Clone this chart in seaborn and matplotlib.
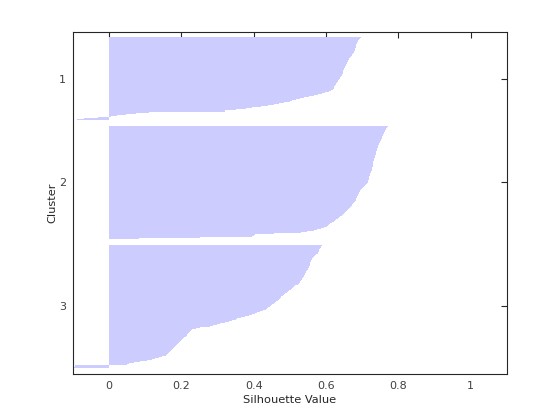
import numpy as np
import pandas as pd
import matplotlib
matplotlib.use("Agg")
import matplotlib.pyplot as plt
import seaborn as sns

# Silhouette values (sorted descending within each cluster)
cluster_1 = [
    0.696, 0.693, 0.691, 0.689, 0.688, 0.686, 0.685, 0.684, 0.683, 0.683,
    0.682, 0.681, 0.681, 0.679, 0.678, 0.677, 0.675, 0.673, 0.671, 0.669,
    0.667, 0.665, 0.663, 0.662, 0.660, 0.659, 0.657, 0.656, 0.655, 0.653,
    0.652, 0.650, 0.649, 0.648, 0.648, 0.647, 0.646, 0.645, 0.644, 0.642,
    0.640, 0.638, 0.635, 0.634, 0.633, 0.631, 0.629, 0.627, 0.624, 0.623,
    0.622, 0.621, 0.620, 0.614, 0.608, 0.598, 0.589, 0.578, 0.566, 0.552,
    0.538, 0.528, 0.518, 0.505, 0.500, 0.485, 0.470, 0.455, 0.440, 0.420,
    0.395, 0.378, 0.350, 0.320, 0.320, 0.110, 0.074, 0.046, 0.023, 0.005,
    -0.031, -0.068, -0.089,
]
cluster_2 = [
    0.771, 0.769, 0.767, 0.765, 0.763, 0.762, 0.761, 0.760, 0.758, 0.757,
    0.756, 0.755, 0.754, 0.753, 0.752, 0.750, 0.749, 0.748, 0.746, 0.745,
    0.744, 0.743, 0.742, 0.741, 0.740, 0.739, 0.738, 0.738, 0.737, 0.736,
    0.736, 0.735, 0.735, 0.734, 0.733, 0.732, 0.731, 0.731, 0.730, 0.730,
    0.729, 0.729, 0.728, 0.728, 0.727, 0.726, 0.725, 0.724, 0.723, 0.722,
    0.721, 0.720, 0.720, 0.719, 0.718, 0.717, 0.716, 0.715, 0.714, 0.711,
    0.708, 0.705, 0.702, 0.700, 0.697, 0.695, 0.694, 0.692, 0.691, 0.689,
    0.688, 0.686, 0.685, 0.684, 0.683, 0.682, 0.680, 0.677, 0.675, 0.673,
    0.671, 0.669, 0.666, 0.663, 0.660, 0.659, 0.656, 0.653, 0.650, 0.647,
    0.643, 0.639, 0.636, 0.632, 0.628, 0.626, 0.621, 0.616, 0.612, 0.609,
    0.606, 0.603, 0.595, 0.585, 0.576, 0.567, 0.548, 0.530, 0.456, 0.405,
    0.400, 0.396, 0.253, 0.083,
]
cluster_3 = [
    0.589, 0.587, 0.585, 0.583, 0.582, 0.581, 0.580, 0.579, 0.577, 0.573,
    0.569, 0.566, 0.564, 0.562, 0.560, 0.559, 0.558, 0.557, 0.557, 0.556,
    0.555, 0.554, 0.552, 0.551, 0.549, 0.548, 0.546, 0.545, 0.543, 0.542,
    0.540, 0.538, 0.537, 0.535, 0.533, 0.531, 0.529, 0.527, 0.525, 0.522,
    0.518, 0.514, 0.511, 0.508, 0.505, 0.502, 0.499, 0.495, 0.491, 0.488,
    0.484, 0.480, 0.477, 0.475, 0.472, 0.470, 0.466, 0.462, 0.458, 0.455,
    0.451, 0.448, 0.445, 0.441, 0.437, 0.433, 0.426, 0.418, 0.410, 0.403,
    0.395, 0.388, 0.376, 0.365, 0.354, 0.350, 0.341, 0.332, 0.320, 0.308,
    0.299, 0.288, 0.278, 0.252, 0.240, 0.230, 0.227, 0.224, 0.221, 0.219,
    0.217, 0.215, 0.212, 0.208, 0.204, 0.203, 0.199, 0.196, 0.193, 0.190,
    0.187, 0.184, 0.182, 0.179, 0.177, 0.175, 0.172, 0.169, 0.166, 0.163,
    0.160, 0.157, 0.148, 0.138, 0.128, 0.118, 0.105, 0.085, 0.070, 0.055,
    0.050, -0.094, -0.095, -0.096,
]
cluster_names = ["1", "2", "3"]
x_ticks = [0, 0.2, 0.4, 0.6, 0.8, 1]
x_tick_labels = ["0", "0.2", "0.4", "0.6", "0.8", "1"]

sns.set_theme(style="white")
plt.rcParams["font.family"] = ["DejaVu Sans"]

fig = plt.figure(figsize=(5.6, 4.2), dpi=100)
ax = fig.add_axes([0.13, 0.11, 0.775, 0.815])

space = 6
rows = []
centers = []
pos = space
for name, vals in zip(cluster_names, [cluster_1, cluster_2, cluster_3]):
    start = pos + 1
    for v in vals:
        pos += 1
        rows.append((pos, v, name))
    centers.append((start + pos) / 2)
    pos += space
total = pos
df = pd.DataFrame(rows, columns=["pos", "value", "cluster"])

sns.barplot(data=df, x="value", y="pos", orient="y", native_scale=True,
            errorbar=None, color="#ccccff", saturation=1, width=1,
            linewidth=0, edgecolor="none", antialiased=False, ax=ax)

ax.set_xlim(-0.1, 1.1)
ax.set_ylim(total + 0.5, 0.5)
ax.set_xticks(x_ticks)
ax.set_xticklabels(x_tick_labels)
ax.set_yticks(centers)
ax.set_yticklabels(cluster_names)

dark = "#262626"
for sp in ax.spines.values():
    sp.set_visible(True)
    sp.set_color(dark)
    sp.set_linewidth(0.8)
ax.tick_params(direction="in", length=4, width=0.8, top=True, right=True,
               labelsize=8, colors=dark, labelcolor="#404040", pad=5)
ax.set_xlabel("Silhouette Value", fontsize=8.2, color=dark, labelpad=3)
ax.set_ylabel("Cluster", fontsize=8.2, color=dark, labelpad=1)
ax.grid(False)

fig.savefig("out.png", dpi=100, facecolor="white")
